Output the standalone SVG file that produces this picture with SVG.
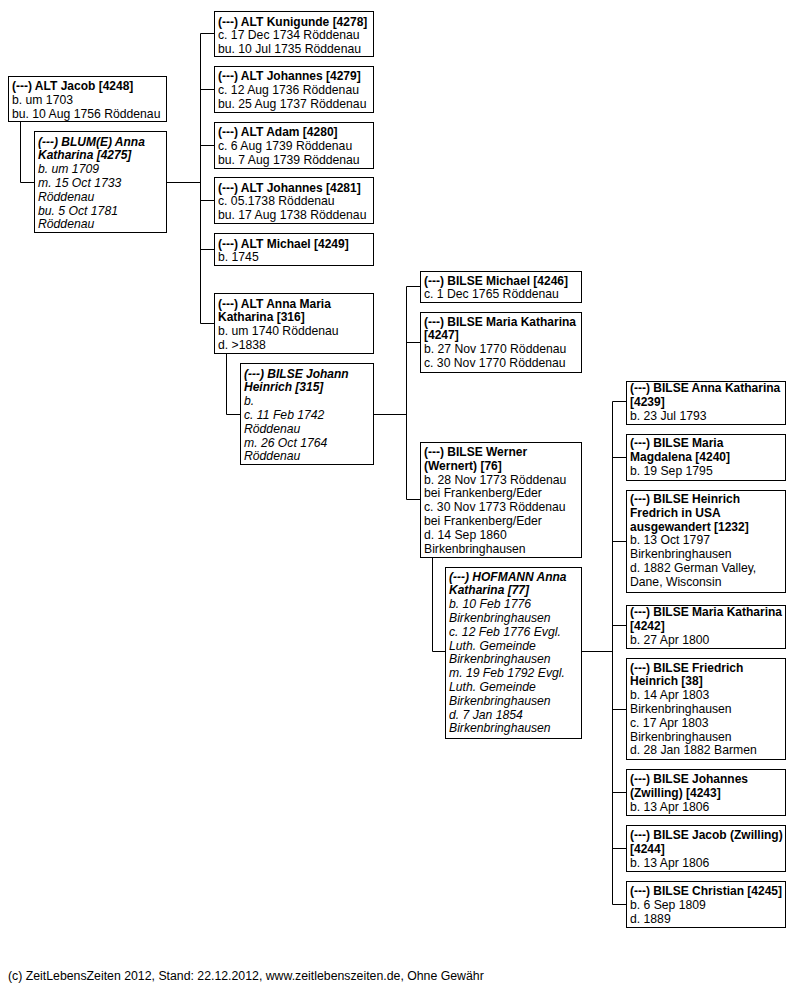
<svg xmlns="http://www.w3.org/2000/svg" width="796" height="987" viewBox="0 0 796 987">
<style>
rect.b{fill:#fff;stroke:#000;stroke-width:1}
text{font-family:"Liberation Sans",Arial,sans-serif;font-size:12.2px;fill:#000}
.n{font-weight:bold;font-size:12px}
.i{font-style:italic}
.f{font-size:12.3px}
#connectors path{fill:none;stroke:#000;stroke-width:1}
</style>
<rect width="796" height="987" fill="#fff"/>
<g id="connectors">
<path d="M20.5,121.5V182.5H34.5"/>
<path d="M166.5,182.5H200.5"/>
<path d="M200.5,33.5V323.5"/>
<path d="M200.5,33.5H214.5M200.5,89.5H214.5M200.5,145.5H214.5M200.5,200.5H214.5M200.5,249.5H214.5M200.5,323.5H214.5"/>
<path d="M226.5,353.5V414.5H240.5"/>
<path d="M373.5,414.5H406.5"/>
<path d="M406.5,286.5V499.5"/>
<path d="M406.5,286.5H420.5M406.5,342.5H420.5M406.5,499.5H420.5"/>
<path d="M432.5,557.5V651.5H445.5"/>
<path d="M581.5,651.5H612.5"/>
<path d="M612.5,401.5V904.5"/>
<path d="M612.5,401.5H626.5M612.5,457.5H626.5M612.5,541.5H626.5M612.5,625.5H626.5M612.5,709.5H626.5M612.5,792.5H626.5M612.5,848.5H626.5M612.5,904.5H626.5"/>
</g>
<g id="n4248"><rect class="b" x="8.5" y="76.5" width="158" height="45"/>
<text x="12" y="90"><tspan class="n">(---) ALT Jacob [4248]</tspan><tspan x="12" dy="13.8">b. um 1703</tspan><tspan x="12" dy="13.8">bu. 10 Aug 1756 Röddenau</tspan></text></g>
<g id="n4275"><rect class="b" x="34.5" y="131.5" width="132" height="101"/>
<text x="38" y="145.5" class="i"><tspan class="n">(---) BLUM(E) Anna</tspan><tspan x="38" dy="13.8" class="n">Katharina [4275]</tspan><tspan x="38" dy="13.8">b. um 1709</tspan><tspan x="38" dy="13.8">m. 15 Oct 1733</tspan><tspan x="38" dy="13.8">Röddenau</tspan><tspan x="38" dy="13.8">bu. 5 Oct 1781</tspan><tspan x="38" dy="13.8">Röddenau</tspan></text></g>
<g id="n4278"><rect class="b" x="214.5" y="11.5" width="159" height="45"/>
<text x="218" y="25.5"><tspan class="n">(---) ALT Kunigunde [4278]</tspan><tspan x="218" dy="13.8">c. 17 Dec 1734 Röddenau</tspan><tspan x="218" dy="13.8">bu. 10 Jul 1735 Röddenau</tspan></text></g>
<g id="n4279"><rect class="b" x="214.5" y="66.5" width="159" height="46"/>
<text x="218" y="80"><tspan class="n">(---) ALT Johannes [4279]</tspan><tspan x="218" dy="13.8">c. 12 Aug 1736 Röddenau</tspan><tspan x="218" dy="13.8">bu. 25 Aug 1737 Röddenau</tspan></text></g>
<g id="n4280"><rect class="b" x="214.5" y="122.5" width="159" height="46"/>
<text x="218" y="136"><tspan class="n">(---) ALT Adam [4280]</tspan><tspan x="218" dy="13.8">c. 6 Aug 1739 Röddenau</tspan><tspan x="218" dy="13.8">bu. 7 Aug 1739 Röddenau</tspan></text></g>
<g id="n4281"><rect class="b" x="214.5" y="177.5" width="159" height="46"/>
<text x="218" y="191.5"><tspan class="n">(---) ALT Johannes [4281]</tspan><tspan x="218" dy="13.8">c. 05.1738 Röddenau</tspan><tspan x="218" dy="13.8">bu. 17 Aug 1738 Röddenau</tspan></text></g>
<g id="n4249"><rect class="b" x="214.5" y="233.5" width="159" height="32"/>
<text x="218" y="247.5"><tspan class="n">(---) ALT Michael [4249]</tspan><tspan x="218" dy="13.8">b. 1745</tspan></text></g>
<g id="n316"><rect class="b" x="214.5" y="293.5" width="159" height="60"/>
<text x="218" y="307.5"><tspan class="n">(---) ALT Anna Maria</tspan><tspan x="218" dy="13.8" class="n">Katharina [316]</tspan><tspan x="218" dy="13.8">b. um 1740 Röddenau</tspan><tspan x="218" dy="13.8">d. &gt;1838</tspan></text></g>
<g id="n315"><rect class="b" x="240.5" y="363.5" width="133" height="101"/>
<text x="244" y="377.5" class="i"><tspan class="n">(---) BILSE Johann</tspan><tspan x="244" dy="13.8" class="n">Heinrich [315]</tspan><tspan x="244" dy="13.8">b.</tspan><tspan x="244" dy="13.8">c. 11 Feb 1742</tspan><tspan x="244" dy="13.8">Röddenau</tspan><tspan x="244" dy="13.8">m. 26 Oct 1764</tspan><tspan x="244" dy="13.8">Röddenau</tspan></text></g>
<g id="n4246"><rect class="b" x="420.5" y="271.5" width="161" height="31"/>
<text x="424" y="284.5"><tspan class="n">(---) BILSE Michael [4246]</tspan><tspan x="424" dy="13.8">c. 1 Dec 1765 Röddenau</tspan></text></g>
<g id="n4247"><rect class="b" x="420.5" y="312.5" width="161" height="60"/>
<text x="424" y="325.5"><tspan class="n">(---) BILSE Maria Katharina</tspan><tspan x="424" dy="13.8" class="n">[4247]</tspan><tspan x="424" dy="13.8">b. 27 Nov 1770 Röddenau</tspan><tspan x="424" dy="13.8">c. 30 Nov 1770 Röddenau</tspan></text></g>
<g id="n76"><rect class="b" x="420.5" y="442.5" width="161" height="115"/>
<text x="424" y="456"><tspan class="n">(---) BILSE Werner</tspan><tspan x="424" dy="13.8" class="n">(Wernert) [76]</tspan><tspan x="424" dy="13.8">b. 28 Nov 1773 Röddenau</tspan><tspan x="424" dy="13.8">bei Frankenberg/Eder</tspan><tspan x="424" dy="13.8">c. 30 Nov 1773 Röddenau</tspan><tspan x="424" dy="13.8">bei Frankenberg/Eder</tspan><tspan x="424" dy="13.8">d. 14 Sep 1860</tspan><tspan x="424" dy="13.8">Birkenbringhausen</tspan></text></g>
<g id="n77"><rect class="b" x="445.5" y="567.5" width="136" height="171"/>
<text x="449" y="580.5" class="i"><tspan class="n">(---) HOFMANN Anna</tspan><tspan x="449" dy="13.8" class="n">Katharina [77]</tspan><tspan x="449" dy="13.8">b. 10 Feb 1776</tspan><tspan x="449" dy="13.8">Birkenbringhausen</tspan><tspan x="449" dy="13.8">c. 12 Feb 1776 Evgl.</tspan><tspan x="449" dy="13.8">Luth. Gemeinde</tspan><tspan x="449" dy="13.8">Birkenbringhausen</tspan><tspan x="449" dy="13.8">m. 19 Feb 1792 Evgl.</tspan><tspan x="449" dy="13.8">Luth. Gemeinde</tspan><tspan x="449" dy="13.8">Birkenbringhausen</tspan><tspan x="449" dy="13.8">d. 7 Jan 1854</tspan><tspan x="449" dy="13.8">Birkenbringhausen</tspan></text></g>
<g id="n4239"><rect class="b" x="626.5" y="381.5" width="159" height="43"/>
<text x="630" y="392"><tspan class="n">(---) BILSE Anna Katharina</tspan><tspan x="630" dy="13.8" class="n">[4239]</tspan><tspan x="630" dy="13.8">b. 23 Jul 1793</tspan></text></g>
<g id="n4240"><rect class="b" x="626.5" y="434.5" width="159" height="46"/>
<text x="630" y="447"><tspan class="n">(---) BILSE Maria</tspan><tspan x="630" dy="13.8" class="n">Magdalena [4240]</tspan><tspan x="630" dy="13.8">b. 19 Sep 1795</tspan></text></g>
<g id="n1232"><rect class="b" x="626.5" y="490.5" width="159" height="102"/>
<text x="630" y="503"><tspan class="n">(---) BILSE Heinrich</tspan><tspan x="630" dy="13.8" class="n">Fredrich in USA</tspan><tspan x="630" dy="13.8" class="n">ausgewandert [1232]</tspan><tspan x="630" dy="13.8">b. 13 Oct 1797</tspan><tspan x="630" dy="13.8">Birkenbringhausen</tspan><tspan x="630" dy="13.8">d. 1882 German Valley,</tspan><tspan x="630" dy="13.8">Dane, Wisconsin</tspan></text></g>
<g id="n4242"><rect class="b" x="626.5" y="605.5" width="159" height="43"/>
<text x="630" y="616"><tspan class="n">(---) BILSE Maria Katharina</tspan><tspan x="630" dy="13.8" class="n">[4242]</tspan><tspan x="630" dy="13.8">b. 27 Apr 1800</tspan></text></g>
<g id="n38"><rect class="b" x="626.5" y="658.5" width="159" height="101"/>
<text x="630" y="671.5"><tspan class="n">(---) BILSE Friedrich</tspan><tspan x="630" dy="13.8" class="n">Heinrich [38]</tspan><tspan x="630" dy="13.8">b. 14 Apr 1803</tspan><tspan x="630" dy="13.8">Birkenbringhausen</tspan><tspan x="630" dy="13.8">c. 17 Apr 1803</tspan><tspan x="630" dy="13.8">Birkenbringhausen</tspan><tspan x="630" dy="13.8">d. 28 Jan 1882 Barmen</tspan></text></g>
<g id="n4243"><rect class="b" x="626.5" y="769.5" width="159" height="46"/>
<text x="630" y="783"><tspan class="n">(---) BILSE Johannes</tspan><tspan x="630" dy="13.8" class="n">(Zwilling) [4243]</tspan><tspan x="630" dy="13.8">b. 13 Apr 1806</tspan></text></g>
<g id="n4244"><rect class="b" x="626.5" y="825.5" width="159" height="46"/>
<text x="630" y="839"><tspan class="n">(---) BILSE Jacob (Zwilling)</tspan><tspan x="630" dy="13.8" class="n">[4244]</tspan><tspan x="630" dy="13.8">b. 13 Apr 1806</tspan></text></g>
<g id="n4245"><rect class="b" x="626.5" y="881.5" width="159" height="46"/>
<text x="630" y="895"><tspan class="n">(---) BILSE Christian [4245]</tspan><tspan x="630" dy="13.8">b. 6 Sep 1809</tspan><tspan x="630" dy="13.8">d. 1889</tspan></text></g>
<text x="8" y="980" class="f">(c) ZeitLebensZeiten 2012, Stand: 22.12.2012, www.zeitlebenszeiten.de, Ohne Gewähr</text>
</svg>
